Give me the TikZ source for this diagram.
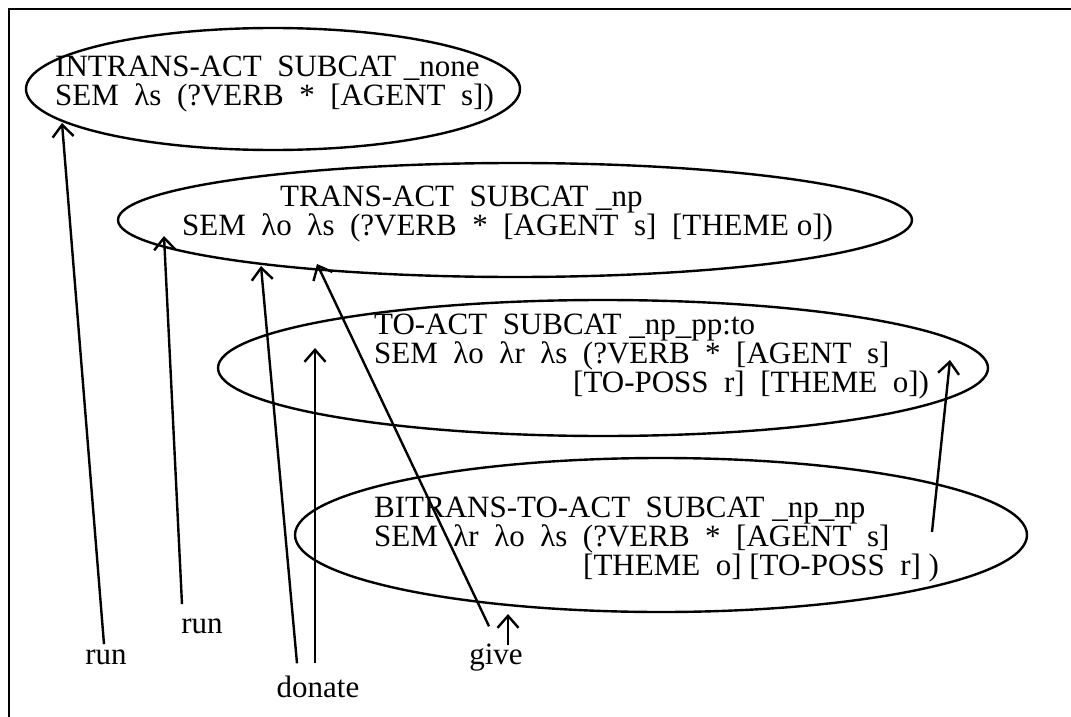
\documentclass[tikz,border=0pt]{standalone}
\usepackage{fontspec}
\setmainfont{Liberation Serif}
\usetikzlibrary{arrows.meta,shapes.geometric}
\newcommand\gap{\hspace{0.5em}}
\begin{document}
\begin{tikzpicture}[x=1pt,y=-1pt,
  txt/.style={anchor=base west,inner sep=0pt,font=\fontsize{31}{29}\selectfont},
  lbl/.style={anchor=base,inner sep=0pt,font=\fontsize{31}{29}\selectfont},
  oval/.style={draw,ellipse,line width=2.4pt,inner sep=0pt},
  arr/.style={line width=2.4pt,-{Straight Barb[length=12pt,width=21pt]}}]
\useasboundingbox (0,0) rectangle (1071,717);
% frame
\draw[line width=2.4pt] (9,717) -- (9,9) -- (1071,9);

% feature structures
\node[oval,minimum width=494pt,minimum height=122pt] (e1) at (273,89) {};
\node[oval,minimum width=794pt,minimum height=114pt] (e2) at (515,220) {};
\node[oval,minimum width=770pt,minimum height=136pt] (e3) at (603,368) {};
\node[oval,minimum width=732pt,minimum height=154pt] (e4) at (661,535) {};

\node[txt] (t1a) at (55,77) {INTRANS-ACT\gap SUBCAT \_none};
\node[txt] (t1b) at (55,106) {SEM\gap λs\gap (?VERB\gap *\gap [AGENT\gap s])};

\node[txt] (t2a) at (280,206) {TRANS-ACT\gap SUBCAT \_np};
\node[txt] (t2b) at (182,235) {SEM\gap λo\gap λs\gap (?VERB\gap *\gap [AGENT\gap s]\gap [THEME o])};

\node[txt] (t3a) at (374,334) {TO-ACT\gap SUBCAT \_np\_pp:to};
\node[txt] (t3b) at (374,363) {SEM\gap λo\gap λr\gap λs\gap (?VERB\gap *\gap [AGENT\gap s]};
\node[txt] (t3c) at (573,392) {[TO-POSS\gap r]\gap [THEME\gap o])};

\node[txt] (t4a) at (374,517) {BITRANS-TO-ACT\gap SUBCAT \_np\_np};
\node[txt] (t4b) at (374,546) {SEM\gap λr\gap λo\gap λs\gap (?VERB\gap *\gap [AGENT\gap s]};
\node[txt] (t4c) at (583,575) {[THEME\gap o] [TO-POSS\gap r] )};

% words
\node[lbl] (run1) at (106,664) {run};
\node[lbl] (run2) at (202,633) {run};
\node[lbl] (donate) at (318,697) {donate};
\node[lbl] (give) at (496,664) {give};

% arrow targets
\coordinate (p1) at (62,123);
\coordinate (p2) at (164,236);
\coordinate (p3) at (261,266);
\coordinate (p4) at (315,348);
\coordinate (p5) at (317,264);
\coordinate (p6) at (508,614);
\coordinate (q7) at (932,532);
\coordinate (p7) at (950,360);

\draw[arr] ([xshift=-2pt,yshift=5pt]run1.north) -- (p1);
\draw[arr] ([xshift=-20pt,yshift=14pt]run2.north) -- (p2);
\draw[arr] ([xshift=-21pt,yshift=12pt]donate.north) -- (p3);
\draw[arr] ([xshift=-3pt,yshift=12pt]donate.north) -- (p4);
\draw[arr] ([xshift=-7pt,yshift=17pt]give.north) -- (p5);
\draw[arr] ([xshift=12pt,yshift=-2pt]give.north) -- (p6);
\draw[arr] (q7) -- (p7);
\end{tikzpicture}
\end{document}
